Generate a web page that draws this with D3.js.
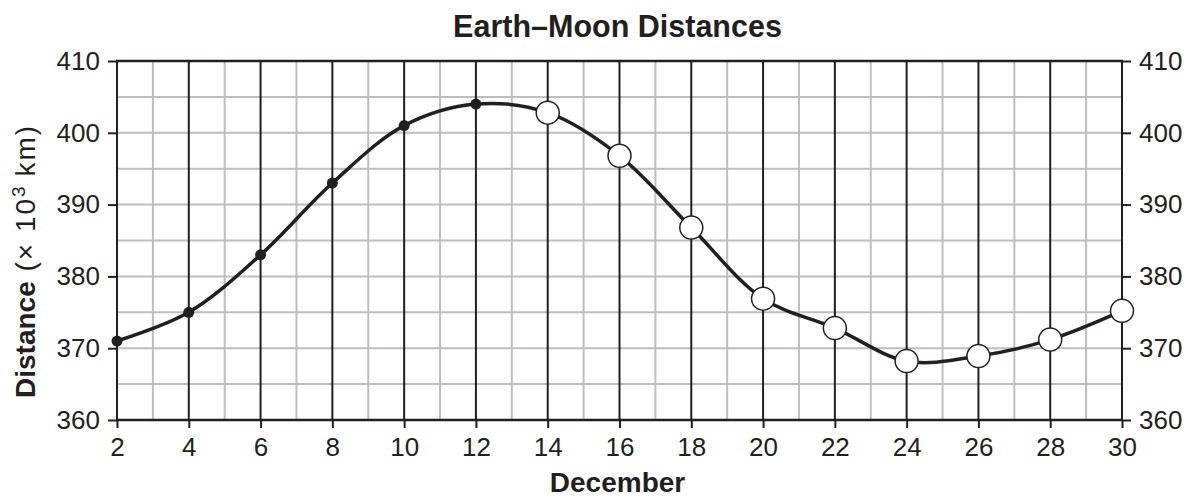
<!DOCTYPE html>
<html>
<head>
<meta charset="utf-8">
<script src="https://cdn.jsdelivr.net/npm/d3@7"></script>
<style>
  body { margin: 0; background: #fff; }
  svg { font-family: "Liberation Sans", Arial, sans-serif; }
</style>
</head>
<body>
<div id="chart"></div>
<script>
// days of December and Earth-Moon distance (thousands of km)
const days = [2, 4, 6, 8, 10, 12, 14, 16, 18, 20, 22, 24, 26, 28, 30];
const distances = [371, 375, 383, 393, 401, 404, 402.8, 396.8, 386.8, 376.9, 372.8, 368.2, 368.9, 371.2, 375.2];
// first 6 points are measured (filled), the rest predicted (open)
const filledCount = 6;
const xTicks = [2, 4, 6, 8, 10, 12, 14, 16, 18, 20, 22, 24, 26, 28, 30];
const yTicks = [360, 370, 380, 390, 400, 410];

const width = 1195, height = 498;
const margin = { top: 61, right: 73, bottom: 78, left: 117 };
const ink = "#231f20", grey = "#bcbec0";

const svg = d3.select("#chart").append("svg")
    .attr("width", width)
    .attr("height", height);

const x = d3.scaleLinear().domain([2, 30]).range([margin.left, width - margin.right]);
const y = d3.scaleLinear().domain([360, 410]).range([height - margin.bottom, margin.top]);

const data = days.map((d, i) => ({ day: d, dist: distances[i], filled: i < filledCount }));

// grey grid: every day and every 5 units
svg.append("g").selectAll("line")
    .data(d3.range(3, 30, 2))
    .enter().append("line")
    .attr("x1", d => x(d)).attr("x2", d => x(d))
    .attr("y1", y(360)).attr("y2", y(410))
    .attr("stroke", grey).attr("stroke-width", 2);

svg.append("g").selectAll("line")
    .data(d3.range(365, 410, 5))
    .enter().append("line")
    .attr("x1", x(2)).attr("x2", x(30))
    .attr("y1", d => y(d)).attr("y2", d => y(d))
    .attr("stroke", grey).attr("stroke-width", 2);

// black verticals every two days
svg.append("g").selectAll("line")
    .data(xTicks)
    .enter().append("line")
    .attr("x1", d => x(d)).attr("x2", d => x(d))
    .attr("y1", y(360)).attr("y2", y(410))
    .attr("stroke", ink).attr("stroke-width", 2);

// top and bottom frame
[360, 410].forEach(v => {
    svg.append("line")
        .attr("x1", x(2) - 1).attr("x2", x(30) + 1)
        .attr("y1", y(v)).attr("y2", y(v))
        .attr("stroke", ink).attr("stroke-width", 2.5);
});

// axes
const styleAxis = g => {
    g.attr("font-size", null).attr("font-family", null);
    g.select(".domain").remove();
    g.selectAll(".tick line").attr("stroke", ink).attr("stroke-width", 2);
    g.selectAll(".tick text").attr("fill", ink).style("font-size", "26px");
};

svg.append("g")
    .attr("transform", `translate(${x(2)},0)`)
    .call(d3.axisLeft(y).tickValues(yTicks).tickSize(9).tickPadding(8))
    .call(styleAxis);

svg.append("g")
    .attr("transform", `translate(${x(30)},0)`)
    .call(d3.axisRight(y).tickValues(yTicks).tickSize(9).tickPadding(8))
    .call(styleAxis);

svg.append("g")
    .attr("transform", `translate(0,${y(360)})`)
    .call(d3.axisBottom(x).tickValues(xTicks).tickSize(8).tickPadding(10))
    .call(styleAxis);

// curve
const line = d3.line()
    .x(d => x(d.day))
    .y(d => y(d.dist))
    .curve(d3.curveCatmullRom.alpha(0.5));

svg.append("path")
    .datum(data)
    .attr("d", line)
    .attr("fill", "none")
    .attr("stroke", ink)
    .attr("stroke-width", 3.5);

svg.append("g").selectAll("circle")
    .data(data)
    .enter().append("circle")
    .attr("cx", d => x(d.day))
    .attr("cy", d => y(d.dist))
    .attr("r", d => d.filled ? 5.5 : 11.5)
    .attr("fill", d => d.filled ? ink : "#fff")
    .attr("stroke", ink)
    .attr("stroke-width", d => d.filled ? 0 : 1.5);

// titles
svg.append("text")
    .attr("x", (x(2) + x(30)) / 2 - 2)
    .attr("y", 37)
    .attr("text-anchor", "middle")
    .attr("fill", ink)
    .style("font-size", "30.5px")
    .style("font-weight", "bold")
    .text("Earth–Moon Distances");

svg.append("text")
    .attr("x", (x(2) + x(30)) / 2 - 2)
    .attr("y", 492)
    .attr("text-anchor", "middle")
    .attr("fill", ink)
    .style("font-size", "28px")
    .style("font-weight", "bold")
    .text("December");

const yLabel = svg.append("text")
    .attr("transform", `translate(35,398) rotate(-90)`)
    .attr("text-anchor", "start")
    .attr("fill", ink)
    .style("font-size", "28px");
yLabel.append("tspan").style("font-weight", "bold").text("Distance");
yLabel.append("tspan").style("letter-spacing", "2px").text(" (× 10");
yLabel.append("tspan").attr("dy", -10).style("font-size", "19px").text("3");
yLabel.append("tspan").attr("dy", 10).style("letter-spacing", "2px").text(" km)");
</script>
</body>
</html>
